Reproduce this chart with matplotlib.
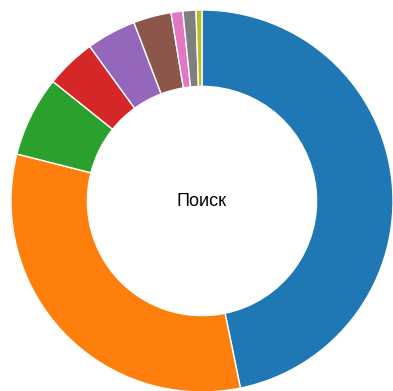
import matplotlib
matplotlib.use("Agg")
import matplotlib.pyplot as plt

# доли сегментов (по часовой стрелке от верха)
labels = ["A", "B", "C", "D", "E", "F", "G", "H", "I"]
values = [46.8, 32.2, 6.8, 4.25, 4.2, 3.2, 1.0, 1.1, 0.5]
colors = ["#1f77b4", "#ff7f0e", "#2ca02c", "#d62728", "#9467bd",
          "#8c564b", "#e377c2", "#7f7f7f", "#bcbd22"]
center_label = "Поиск"

fig = plt.figure(figsize=(3.93, 3.91), dpi=100)
ax = fig.add_axes([11 / 393, -1 / 391, 382 / 393, 382 / 391])
ax.pie(values, colors=colors, startangle=90, counterclock=False,
       radius=1.0, wedgeprops=dict(width=0.4, edgecolor="white", linewidth=1))
ax.text(0, 0, center_label, ha="center", va="center", fontsize=13,
        family=["Liberation Sans", "DejaVu Sans"])
ax.set_xlim(-1, 1)
ax.set_ylim(-1, 1)
ax.set_aspect("equal")
ax.axis("off")

fig.savefig("out.png", dpi=100)
